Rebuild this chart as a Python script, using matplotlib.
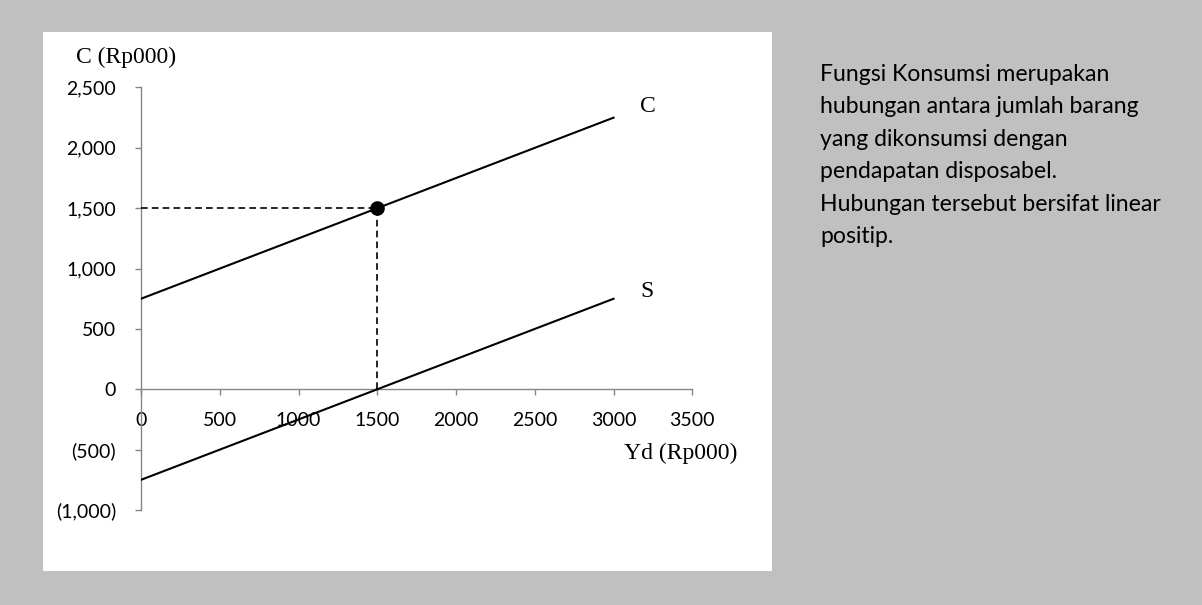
import matplotlib.pyplot as plt
from matplotlib.ticker import FuncFormatter

# data
yd = [0, 3000]
c_vals = [750, 2250]
s_vals = [-750, 750]
pt_x, pt_y = 1500, 1500
x_ticks = [0, 500, 1000, 1500, 2000, 2500, 3000, 3500]
y_ticks = [-1000, -500, 0, 500, 1000, 1500, 2000, 2500]
note = ("Fungsi Konsumsi merupakan\nhubungan antara jumlah barang\n"
        "yang dikonsumsi dengan\npendapatan disposabel.\n"
        "Hubungan tersebut bersifat linear\npositip.")

W, H = 1202, 605
fig = plt.figure(figsize=(W / 100, H / 100), dpi=100)
fig.patch.set_facecolor('#c0c0c0')

# white chart panel
bg = fig.add_axes([43 / W, 1 - 571 / H, (772 - 43) / W, (571 - 32) / H], zorder=0)
bg.set_facecolor('white')
bg.set_xticks([])
bg.set_yticks([])
for s in bg.spines.values():
    s.set_visible(False)

ax = fig.add_axes([141 / W, 1 - 510 / H, (692.3 - 141) / W, (510 - 87.5) / H], zorder=1)
ax.set_facecolor('none')
ax.set_xlim(0, 3500)
ax.set_ylim(-1000, 2500)

ax.plot(yd, c_vals, color='black', lw=1.5, zorder=3)
ax.plot(yd, s_vals, color='black', lw=1.5, zorder=3)
ax.plot([0, pt_x], [pt_y, pt_y], color='black', lw=1.2, ls=(0, (4, 2.5)), zorder=3)
ax.plot([pt_x, pt_x], [0, pt_y], color='black', lw=1.2, ls=(0, (4, 2.5)), zorder=3)
ax.plot([pt_x], [pt_y], 'o', color='black', ms=9.5, zorder=4)

gray = '#868686'
for s in ['top', 'right']:
    ax.spines[s].set_visible(False)
ax.spines['bottom'].set_position(('data', 0))
ax.spines['left'].set_position(('data', 0))
for s in ['bottom', 'left']:
    ax.spines[s].set_color(gray)
    ax.spines[s].set_linewidth(1.0)

ax.set_xticks(x_ticks)
ax.set_yticks(y_ticks)


def yfmt(v, pos):
    if v < 0:
        return '({:,.0f})'.format(-v)
    return '{:,.0f}'.format(v)


ax.yaxis.set_major_formatter(FuncFormatter(yfmt))
ax.tick_params(axis='x', direction='out', length=4, width=1, color=gray, pad=12,
               labelsize=14)
ax.tick_params(axis='y', direction='out', length=4, width=1, color=gray, pad=14,
               labelsize=14)
for lab in ax.get_xticklabels() + ax.get_yticklabels():
    lab.set_fontfamily('Lato')

serif = 'Liberation Serif'
fig.text(126 / W, 1 - 57 / H, 'C (Rp000)', ha='center', va='center',
         family=serif, fontsize=17)
fig.text(681 / W, 1 - 453 / H, 'Yd (Rp000)', ha='center', va='center',
         family=serif, fontsize=17)
ax.text(3170, 2345, 'C', ha='left', va='center', family=serif, fontsize=17)
ax.text(3170, 810, 'S', ha='left', va='center', family=serif, fontsize=17)

fig.text(820 / W, 1 - 243 / H, note, ha='left', va='baseline', family='Lato',
         fontsize=16.6, linespacing=1.67)

fig.savefig('out.png', dpi=100, facecolor=fig.get_facecolor())
